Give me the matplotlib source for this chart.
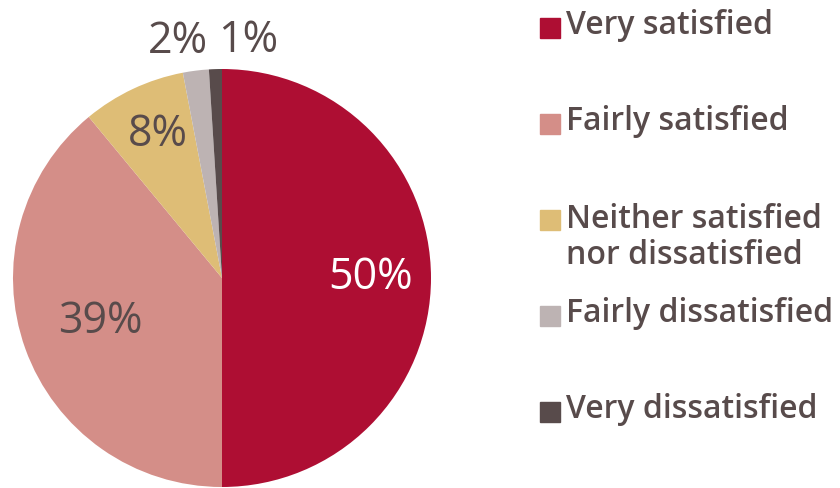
import numpy as np
import matplotlib
matplotlib.use("Agg")
import matplotlib.pyplot as plt
from matplotlib.patches import Rectangle

categories = ["Very satisfied", "Fairly satisfied", "Neither satisfied\nnor dissatisfied",
              "Fairly dissatisfied", "Very dissatisfied"]
shares = [50, 39, 8, 2, 1]
colors = ["#AE0E33", "#D48E88", "#DEBD76", "#BDB3B3", "#584B4B"]
label_colors = ["white", "#584B4B", "#584B4B", "#584B4B", "#584B4B"]
# radial distance and angular nudge (degrees) for each percentage label
label_radius = [0.71, 0.62, 0.75, 1.15, 1.14]
label_nudge = [0, 0, -1, 3.3, -8.1]

TEXT = "#584B4B"
W, H = 840, 488
fig = plt.figure(figsize=(W / 100, H / 100), dpi=100)

cx, cy, r = 222, 278, 209
ax = fig.add_axes([(cx - r) / W, (H - cy - r) / H, 2 * r / W, 2 * r / H])
wedges, _ = ax.pie(shares, colors=colors, startangle=90, counterclock=False,
                   radius=1.0, wedgeprops=dict(linewidth=0))
ax.set_xlim(-1, 1)
ax.set_ylim(-1, 1)
ax.set_aspect("equal")
ax.axis("off")

for w, v, rad, nudge, c in zip(wedges, shares, label_radius, label_nudge, label_colors):
    ang = np.deg2rad((w.theta1 + w.theta2) / 2 + nudge)
    ax.text(rad * np.cos(ang), rad * np.sin(ang), f"{v}%", ha="center", va="center",
            fontsize=31, color=c, family="Open Sans", fontweight="normal", clip_on=False)

# legend drawn in pixel coordinates
legend_y = [26, 122, 237, 314, 410]
for lab, col, y in zip(categories, colors, legend_y):
    nlines = lab.count("\n") + 1
    top = y - (nlines - 1) * 19
    fig.patches.append(Rectangle((540 / W, (H - top - 12) / H), 20 / W, 20 / H,
                                 transform=fig.transFigure, color=col, figure=fig))
    fig.text(566 / W, (H - y) / H, lab, ha="left", va="center", fontsize=23,
             color=TEXT, family="Open Sans", fontweight="semibold", linespacing=1.12)

fig.savefig("out.png", dpi=100)
